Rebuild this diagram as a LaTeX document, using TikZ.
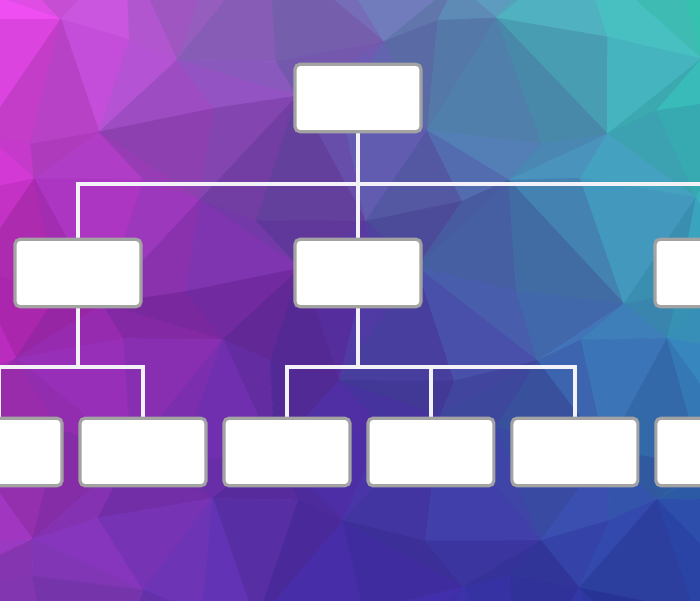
\documentclass[tikz,border=0pt]{standalone}
\usepackage{tikz}
\usetikzlibrary{backgrounds}
\usetikzlibrary{positioning}
\definecolor{boxgray}{RGB}{163,163,163}
\definecolor{linewhite}{RGB}{242,242,248}
% red, green, blue of the backdrop at left/centre/right, top/middle/bottom
\def\chR{{228,112,58,180,78,58,140,66,40}}
\def\chG{{76,108,206,40,44,156,58,44,58}}
\def\chB{{232,178,186,180,150,190,186,164,158}}
\pgfmathdeclarefunction{vx}{2}{\pgfmathparse{-40+80*#1+24*sin(263*#1+577*#2)}}
\pgfmathdeclarefunction{vy}{2}{\pgfmathparse{-40+80*#2+24*cos(419*#1+151*#2)}}
\newcommand{\polycolour}[3]{%
  \pgfmathsetmacro\px{max(0,min(699.9,#1))}%
  \pgfmathsetmacro\py{max(0,min(600.9,#2))}%
  \pgfmathtruncatemacro\ci{\px/350}%
  \pgfmathtruncatemacro\cj{\py/300.5}%
  \pgfmathsetmacro\fu{\px/350-\ci}%
  \pgfmathsetmacro\fv{\py/300.5-\cj}%
  \pgfmathtruncatemacro\ka{3*\cj+\ci}%
  \pgfmathtruncatemacro\kb{\ka+1}%
  \pgfmathtruncatemacro\kc{\ka+3}%
  \pgfmathtruncatemacro\kd{\ka+4}%
  \pgfmathtruncatemacro\colR{min(255,#3*((1-\fu)*(1-\fv)*\chR[\ka]+\fu*(1-\fv)*\chR[\kb]+(1-\fu)*\fv*\chR[\kc]+\fu*\fv*\chR[\kd]))}%
  \pgfmathtruncatemacro\colG{min(255,#3*((1-\fu)*(1-\fv)*\chG[\ka]+\fu*(1-\fv)*\chG[\kb]+(1-\fu)*\fv*\chG[\kc]+\fu*\fv*\chG[\kd]))}%
  \pgfmathtruncatemacro\colB{min(255,#3*((1-\fu)*(1-\fv)*\chB[\ka]+\fu*(1-\fv)*\chB[\kb]+(1-\fu)*\fv*\chB[\kc]+\fu*\fv*\chB[\kd]))}%
  \definecolor{polyfill}{RGB}{\colR,\colG,\colB}%
}
\tikzset{
    node distance=2.88cm,
    post/.style={rectangle,rounded corners=0.1cm,draw=boxgray,line width=1.8pt,
        fill=white,minimum width=2.52cm,minimum height=1.35cm},
    link/.style={draw=linewhite,line width=2.4pt},
    facet/.style={fill=polyfill,draw=polyfill,line width=0.4pt,line join=round}}

\begin{document}
\begin{tikzpicture}[x=0.02cm,y=-0.02cm]
\useasboundingbox (0,0) rectangle (700,601);

% low-poly backdrop
\begin{scope}[on background layer]
\clip (0,0) rectangle (700,601);
\foreach \i in {0,...,10}
  \foreach \j in {0,...,9}{
    \pgfmathsetmacro\qx{vx(\i,\j)}
    \pgfmathsetmacro\qy{vy(\i,\j)}
    \coordinate (p-\i-\j) at (\qx,\qy);
  }
\foreach \i in {0,...,9}
  \foreach \j in {0,...,8}{
    \pgfmathtruncatemacro\ii{\i+1}
    \pgfmathtruncatemacro\jj{\j+1}
    \pgfmathtruncatemacro\parity{mod(\i+\j,2)}
    \pgfmathsetmacro\shadeA{1+0.06*sin(311*\i+173*\j)}
    \pgfmathsetmacro\shadeB{1+0.06*sin(311*\i+173*\j+97)}
    \ifnum\parity=0
      \polycolour{80*\i+15}{80*\j-15}{\shadeA}
      \fill[facet] (p-\i-\j) -- (p-\ii-\j) -- (p-\ii-\jj) -- cycle;
      \polycolour{80*\i-15}{80*\j+15}{\shadeB}
      \fill[facet] (p-\i-\j) -- (p-\ii-\jj) -- (p-\i-\jj) -- cycle;
    \else
      \polycolour{80*\i-15}{80*\j-15}{\shadeA}
      \fill[facet] (p-\i-\j) -- (p-\ii-\j) -- (p-\i-\jj) -- cycle;
      \polycolour{80*\i+15}{80*\j+15}{\shadeB}
      \fill[facet] (p-\ii-\j) -- (p-\ii-\jj) -- (p-\i-\jj) -- cycle;
    \fi
  }
\end{scope}

% chart boxes
\node[post] (head) at (358,98)  {};
\node[post] (mgrA) at (78,273)  {};
\node[post] (mgrB) at (358,273) {};
\node[post] (mgrC) at (718,273) {};
\node[post] (s1)   at (-1,452)  {};
\node[post] (s2) [right of = s1] {};
\node[post] (s3) [right of = s2] {};
\node[post] (s4) [right of = s3] {};
\node[post] (s5) [right of = s4] {};
\node[post] (s6) [right of = s5] {};

\coordinate (topbus) at (358,184);
\coordinate (busA)   at (78,367);
\coordinate (busB)   at (358,367);

% connectors, kept under the boxes
\begin{scope}[on background layer]
\path[link]
    (head) edge (mgrB)
    (mgrA) edge (busA)
    (mgrB) edge (busB)
    (s4)   edge (s4 |- busB);
\draw[link] (mgrA) |- (topbus) -| (mgrC);
\draw[link] (s1) |- (busA) -| (s2);
\draw[link] (s3) |- (busB) -| (s5);
\end{scope}
\end{tikzpicture}
\end{document}
